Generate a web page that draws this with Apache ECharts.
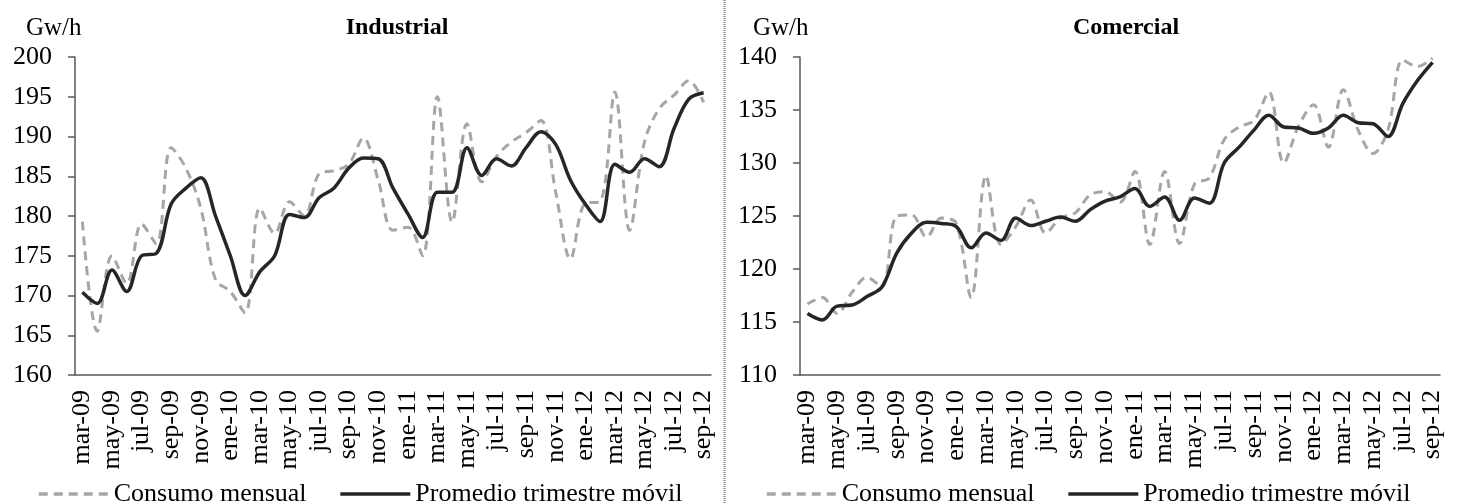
<!DOCTYPE html>
<html>
<head>
<meta charset="utf-8">
<script src="https://cdn.jsdelivr.net/npm/echarts@6/dist/echarts.min.js"></script>
<style>
  html, body { margin: 0; padding: 0; background: #fff; }
  #chart { width: 1458px; height: 504px; }
</style>
</head>
<body>
<div id="chart"></div>
<script>
// Monthly electricity consumption (Gw/h), March 2009 - September 2012
const months = [
  'mar-09','abr-09','may-09','jun-09','jul-09','ago-09','sep-09','oct-09','nov-09','dic-09',
  'ene-10','feb-10','mar-10','abr-10','may-10','jun-10','jul-10','ago-10','sep-10','oct-10','nov-10','dic-10',
  'ene-11','feb-11','mar-11','abr-11','may-11','jun-11','jul-11','ago-11','sep-11','oct-11','nov-11','dic-11',
  'ene-12','feb-12','mar-12','abr-12','may-12','jun-12','jul-12','ago-12','sep-12'
];

const industrialMensual = [
  179.3, 165.5, 175.0, 171.5, 179.0, 176.5, 188.6, 186.0, 181.0, 172.0,
  170.5, 167.8, 181.0, 177.8, 181.8, 180.0, 185.3, 185.7, 186.5, 189.8, 184.5, 178.2,
  178.6, 175.0, 195.0, 179.2, 191.6, 184.3, 187.5, 189.3, 190.5, 192.0, 183.0, 174.6,
  181.6, 181.8, 195.6, 178.2, 189.3, 193.5, 195.2, 197.0, 194.3
];
const industrialPromedio = [
  170.4, 169.0, 173.2, 170.5, 175.0, 175.3, 181.5, 183.5, 184.8, 180.0,
  175.0, 170.0, 173.0, 175.0, 180.2, 179.8, 182.3, 183.5, 186.0, 187.3, 187.2, 183.5,
  180.3, 177.3, 183.0, 183.0, 188.6, 185.1, 187.2, 186.3, 188.6, 190.6, 189.0, 184.5,
  181.5, 179.3, 186.5, 185.5, 187.2, 186.2, 191.0, 194.7, 195.5
];
const comercialMensual = [
  116.7, 117.3, 115.8, 117.8, 119.2, 118.3, 125.0, 125.1, 123.0, 124.8,
  124.3, 117.3, 128.8, 122.3, 124.0, 126.5, 123.4, 124.8, 125.3, 127.0, 127.3, 126.3,
  129.2, 122.3, 129.2, 122.4, 128.0, 128.6, 132.2, 133.4, 134.0, 136.7, 130.0, 133.5,
  135.5, 131.5, 136.9, 133.1, 130.9, 133.1, 139.7, 139.1, 139.9
];
const comercialPromedio = [
  115.8, 115.2, 116.5, 116.6, 117.4, 118.3, 121.5, 123.4, 124.4, 124.3,
  124.0, 122.0, 123.4, 122.7, 124.8, 124.1, 124.5, 124.9, 124.5, 125.6, 126.4, 126.8,
  127.6, 125.9, 126.8, 124.6, 126.7, 126.2, 130.0, 131.5, 133.1, 134.5, 133.4, 133.3,
  132.8, 133.3, 134.5, 133.8, 133.7, 132.5, 135.6, 137.8, 139.5
];

const panelTitles = ['Industrial', 'Comercial'];
const unitLabel = 'Gw/h';
const seriesNames = ['Consumo mensual', 'Promedio trimestre móvil'];

const FONT = '"Liberation Serif", "Times New Roman", serif';
const AXIS_COLOR = '#595959';
const DASH_COLOR = '#a6a6a6';
const SOLID_COLOR = '#262626';

const chart = echarts.init(document.getElementById('chart'), null, { renderer: 'canvas' });

function xAxis(gridIndex) {
  return {
    type: 'category',
    gridIndex,
    data: months,
    boundaryGap: true,
    axisLine: { lineStyle: { color: AXIS_COLOR, width: 1.5 } },
    axisTick: { interval: 1, length: 7, lineStyle: { color: AXIS_COLOR, width: 1.5 } },
    axisLabel: {
      interval: 1, rotate: 90, margin: 15,
      fontFamily: FONT, fontSize: 26, color: '#000'
    },
    splitLine: { show: false }
  };
}

function yAxis(gridIndex, min, max) {
  return {
    type: 'value',
    gridIndex, min, max, interval: 5,
    axisLine: { show: true, lineStyle: { color: AXIS_COLOR, width: 1.5 } },
    axisTick: { show: true, length: 7, lineStyle: { color: AXIS_COLOR, width: 1.5 } },
    axisLabel: { margin: 23, fontFamily: FONT, fontSize: 26, color: '#000' },
    splitLine: { show: false }
  };
}

function lineSeries(name, data, idx, dashed) {
  return {
    name, type: 'line', data,
    xAxisIndex: idx, yAxisIndex: idx,
    smooth: 0.35, symbol: 'none',
    lineStyle: dashed
      ? { color: DASH_COLOR, width: 3, type: [9, 6] }
      : { color: SOLID_COLOR, width: 3.5, type: 'solid' },
    itemStyle: { color: dashed ? DASH_COLOR : SOLID_COLOR },
    z: dashed ? 2 : 3
  };
}

function legend(left) {
  return {
    left, top: 481,
    orient: 'horizontal',
    itemWidth: 70, itemHeight: 14, itemGap: 32,
    padding: 0,
    data: seriesNames,
    itemStyle: { opacity: 0 },
    lineStyle: { width: 3.5 },
    textStyle: { fontFamily: FONT, fontSize: 26, color: '#000' }
  };
}

function headerText(x, text, bold) {
  return {
    type: 'text', x, y: 28,
    style: {
      text, fill: '#000',
      font: (bold ? 'bold 24px ' : '25px ') + FONT,
      textAlign: bold ? 'center' : 'left', textVerticalAlign: 'middle'
    }
  };
}

chart.setOption({
  animation: false,
  backgroundColor: '#fff',
  grid: [
    { left: 75, top: 57, width: 636, height: 318 },
    { left: 800, top: 57, width: 640, height: 318 }
  ],
  xAxis: [xAxis(0), xAxis(1)],
  yAxis: [yAxis(0, 160, 200), yAxis(1, 110, 140)],
  legend: [legend(37), legend(765)],
  series: [
    lineSeries(seriesNames[0], industrialMensual, 0, true),
    lineSeries(seriesNames[1], industrialPromedio, 0, false),
    lineSeries(seriesNames[0], comercialMensual, 1, true),
    lineSeries(seriesNames[1], comercialPromedio, 1, false)
  ],
  graphic: [
    headerText(26, unitLabel, false),
    headerText(397, panelTitles[0], true),
    headerText(753, unitLabel, false),
    headerText(1126, panelTitles[1], true),
    // dotted divider between the two panels
    {
      type: 'line',
      shape: { x1: 724.5, y1: 0, x2: 724.5, y2: 504 },
      style: { stroke: '#7f7f7f', lineWidth: 2, lineDash: [1, 1] }
    }
  ]
});
</script>
</body>
</html>
